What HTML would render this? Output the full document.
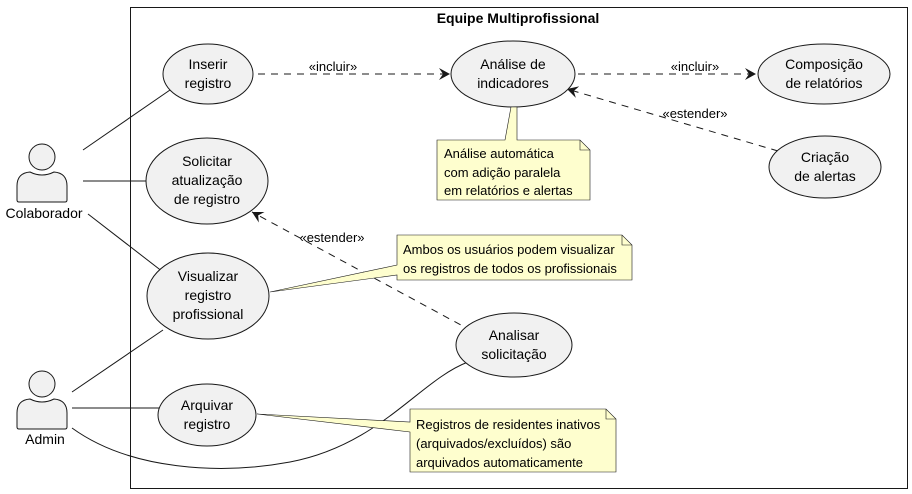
<!DOCTYPE html>
<html><head><style>body{margin:0;background:#fff}svg{display:block}text{font-family:"Liberation Sans",sans-serif;font-size:14px;fill:#000}</style></head><body>
<svg width="912" height="494" viewBox="0 0 912 494" xmlns="http://www.w3.org/2000/svg">
<defs><marker id="a" viewBox="0 0 12 12" refX="11" refY="6" markerWidth="12" markerHeight="12" orient="auto" markerUnits="userSpaceOnUse"><path d="M0,0 L11,6 L0,12 L4,6 Z" fill="#181818"/></marker></defs>
<rect x="130.5" y="7.5" width="777" height="481" fill="none" stroke="#181818"/>
<text x="518" y="23" text-anchor="middle" font-weight="bold" style="font-size:14px">Equipe Multiprofissional</text>
<g stroke="#181818" fill="none">
<line x1="83" y1="150" x2="170" y2="90"/>
<line x1="83" y1="181" x2="146" y2="181"/>
<line x1="88" y1="214" x2="163" y2="272"/>
<line x1="72" y1="392" x2="163" y2="330"/>
<line x1="72" y1="408" x2="159" y2="408"/>
<path d="M72,428 C130,470 220,475 290,462 C380,445 420,380 468,362"/>
<g stroke-dasharray="7,6">
<line x1="258" y1="74" x2="450" y2="74" marker-end="url(#a)"/>
<line x1="578" y1="74" x2="756" y2="74" marker-end="url(#a)"/>
<line x1="778" y1="151" x2="567" y2="89" marker-end="url(#a)"/>
<line x1="472" y1="331" x2="252" y2="212" marker-end="url(#a)"/>
</g></g>
<g style="font-size:13px">
<text x="333" y="71" text-anchor="middle" style="font-size:13px">«incluir»</text>
<text x="695" y="71" text-anchor="middle" style="font-size:13px">«incluir»</text>
<text x="695" y="118" text-anchor="middle" style="font-size:13px">«estender»</text>
<text x="332" y="242" text-anchor="middle" style="font-size:13px">«estender»</text>
</g>
<g fill="#f1f1f1" stroke="#181818">
<ellipse cx="208" cy="74" rx="45" ry="30"/>
<ellipse cx="513" cy="74" rx="62" ry="33"/>
<ellipse cx="824" cy="74" rx="66" ry="30"/>
<ellipse cx="825" cy="167" rx="56" ry="31"/>
<ellipse cx="207" cy="181" rx="61" ry="43"/>
<ellipse cx="208" cy="296" rx="61" ry="43"/>
<ellipse cx="514" cy="345" rx="58" ry="32"/>
<ellipse cx="207" cy="415" rx="49" ry="31"/>
<circle cx="42" cy="157" r="13"/>
<path d="M17,200 L17,186 Q17,173 30,172 Q42,178 54,172 Q67,173 67,186 L67,200 Q67,202 65,202 L19,202 Q17,202 17,200Z"/>
<circle cx="42" cy="384" r="13"/>
<path d="M17,427 L17,413 Q17,400 30,399 Q42,405 54,399 Q67,400 67,413 L67,427 Q67,429 65,429 L19,429 Q17,429 17,427Z"/>
</g>
<g fill="#fefece" stroke="#181818" stroke-width="0.6">
<path d="M437,140 L505,140 L511,107 L517,107 L517,140 L580,140 L590,150 L590,200 L437,200 Z"/>
<path d="M580,140 L580,150 L590,150" fill="none"/>
<path d="M397,235 L622,235 L632,245 L632,280 L397,280 L397,275 L270,292 L397,265 Z"/>
<path d="M622,235 L622,245 L632,245" fill="none"/>
<path d="M410,409 L606,409 L616,419 L616,472 L410,472 L410,432 L257,414 L410,422 Z"/>
<path d="M606,409 L606,419 L616,419" fill="none"/>
</g>
<g text-anchor="middle">
<text x="208" y="69">Inserir</text><text x="208" y="88">registro</text>
<text x="513" y="69">Análise de</text><text x="513" y="88">indicadores</text>
<text x="824" y="69">Composição</text><text x="824" y="88">de relatórios</text>
<text x="825" y="162">Criação</text><text x="825" y="181">de alertas</text>
<text x="207" y="166">Solicitar</text><text x="207" y="185">atualização</text><text x="207" y="204">de registro</text>
<text x="208" y="281">Visualizar</text><text x="208" y="300">registro</text><text x="208" y="319">profissional</text>
<text x="514" y="340">Analisar</text><text x="514" y="359">solicitação</text>
<text x="207" y="410">Arquivar</text><text x="207" y="429">registro</text>
<text x="44" y="218">Colaborador</text>
<text x="45" y="444">Admin</text>
</g>
<g>
<text x="444" y="158" style="font-size:13px">Análise automática</text>
<text x="444" y="177" style="font-size:13px">com adição paralela</text>
<text x="444" y="195" style="font-size:13px">em relatórios e alertas</text>
<text x="403" y="254" style="font-size:13px">Ambos os usuários podem visualizar</text>
<text x="403" y="273" style="font-size:13px">os registros de todos os profissionais</text>
<text x="416" y="429" style="font-size:13px">Registros de residentes inativos</text>
<text x="416" y="448" style="font-size:13px">(arquivados/excluídos) são</text>
<text x="416" y="467" style="font-size:13px">arquivados automaticamente</text>
</g>
</svg>
</body></html>
